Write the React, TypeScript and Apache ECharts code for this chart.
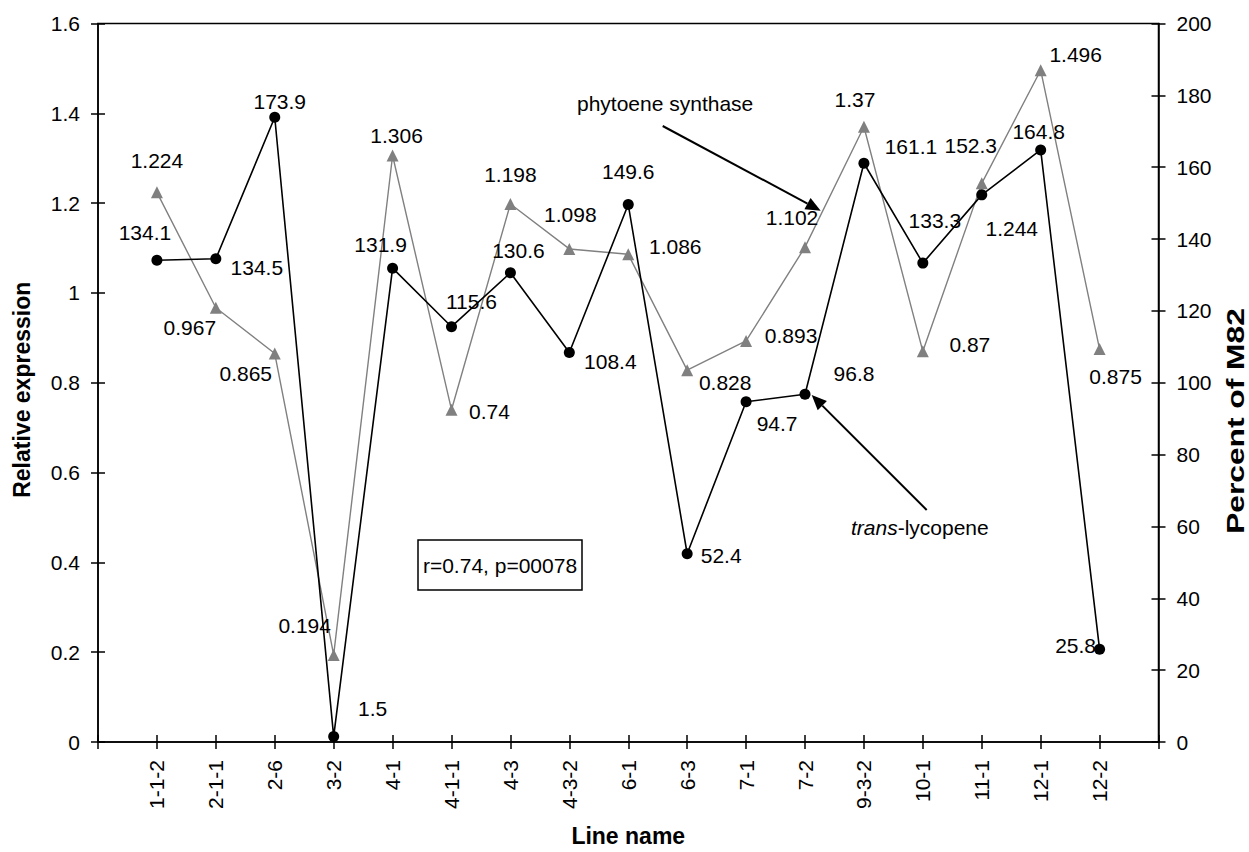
import React, { useEffect, useRef } from 'react';
import * as echarts from 'echarts';

// ---- data ----
const categories = ['1-1-2', '2-1-1', '2-6', '3-2', '4-1', '4-1-1', '4-3', '4-3-2', '6-1', '6-3', '7-1', '7-2', '9-3-2', '10-1', '11-1', '12-1', '12-2'];
const relativeExpression = [1.224, 0.967, 0.865, 0.194, 1.306, 0.74, 1.198, 1.098, 1.086, 0.828, 0.893, 1.102, 1.37, 0.87, 1.244, 1.496, 0.875];
const percentOfM82 = [134.1, 134.5, 173.9, 1.5, 131.9, 115.6, 130.6, 108.4, 149.6, 52.4, 94.7, 96.8, 161.1, 133.3, 152.3, 164.8, 25.8];
const leftAxisMin = 0;
const leftAxisMax = 1.6;
const leftAxisStep = 0.2;
const rightAxisMin = 0;
const rightAxisMax = 200;
const rightAxisStep = 20;

// ---- label layout (pixel offsets of each value label from its marker) ----
const grayLabelOffsets = [
  [0, -32], [-26, 20], [-29, 20], [-29, -29], [4, -20], [38, 2], [0, -30], [1, -34], [47, -8],
  [38, 12], [45, -5], [-13, -30], [-9, -27], [47, -7], [30, 45], [35, -16], [16, 27],
];
const blackLabelOffsets = [
  [-12, -28], [41, 9], [5, -16], [39, -28], [-12, -24], [20, -25], [8, -22], [41, 9], [0, -33],
  [34, 2], [31, 22], [49, -21], [47, -17], [12, -43], [-11, -49], [-2, -18], [-24, -4],
];

const FONT = "'Liberation Sans', Arial, Helvetica, sans-serif";

function arrowParts(x1: number, y1: number, x2: number, y2: number) {
  const ang = Math.atan2(y2 - y1, x2 - x1);
  const L = 15;
  const W = 6.5;
  const c = Math.cos(ang);
  const s = Math.sin(ang);
  const bx = x2 - L * c;
  const by = y2 - L * s;
  return [
    {
      type: 'line',
      shape: { x1, y1, x2: bx, y2: by },
      style: { stroke: '#000', lineWidth: 2 },
      z: 50,
    },
    {
      type: 'polygon',
      shape: { points: [[x2, y2], [bx - W * s, by + W * c], [bx + W * s, by - W * c]] },
      style: { fill: '#000' },
      z: 50,
    },
  ];
}

export default function App() {
  const ref = useRef<HTMLDivElement>(null);

  useEffect(() => {
    const chart = echarts.init(ref.current!, null, { renderer: 'svg' });
    const axisCats = ['', ...categories, ' '];
    const axisLineStyle = { color: '#000', width: 1.5 };
    const labelBase = {
      show: true,
      position: 'inside',
      fontSize: 21,
      color: '#000',
      fontFamily: FONT,
      textBorderWidth: 0,
    };

    const grayData: any[] = ['-', ...relativeExpression.map((v, i) => ({ value: v, label: { offset: grayLabelOffsets[i] } })), '-'];
    const blackData: any[] = ['-', ...percentOfM82.map((v, i) => ({ value: v, label: { offset: blackLabelOffsets[i] } })), '-'];

    const yCommon = {
      type: 'value',
      splitLine: { show: false },
    };

    chart.setOption({
      animation: false,
      backgroundColor: '#fff',
      textStyle: { fontFamily: FONT, color: '#000' },
      grid: {
        left: 98, right: 90.5, top: 23.5, bottom: 102,
        show: true, borderColor: '#000', borderWidth: 1.5, backgroundColor: 'transparent',
      },
      xAxis: [
        {
          type: 'category', data: axisCats, boundaryGap: false, position: 'bottom',
          axisLine: { lineStyle: axisLineStyle },
          axisTick: { show: true, interval: 0, length: 7, lineStyle: axisLineStyle },
          axisLabel: { interval: 0, rotate: 90, fontSize: 21, margin: 18, color: '#000', fontFamily: FONT },
          splitLine: { show: false },
          name: 'Line name', nameLocation: 'middle', nameGap: 82,
          nameTextStyle: { fontSize: 23, fontWeight: 'bold', color: '#000', fontFamily: FONT },
        },
        {
          type: 'category', data: axisCats, boundaryGap: false, position: 'bottom',
          axisLine: { show: false },
          axisTick: { show: true, inside: true, interval: 0, length: 7, lineStyle: axisLineStyle },
          axisLabel: { show: false },
          splitLine: { show: false },
        },
      ],
      yAxis: [
        {
          ...yCommon, position: 'left', min: leftAxisMin, max: leftAxisMax, interval: leftAxisStep,
          axisLine: { show: true, lineStyle: axisLineStyle },
          axisTick: { show: true, length: 7, lineStyle: axisLineStyle },
          axisLabel: { fontSize: 21, margin: 18, color: '#000', fontFamily: FONT },
          name: 'Relative expression', nameLocation: 'middle', nameGap: 65, nameRotate: 90,
          nameTextStyle: { fontSize: 23, fontWeight: 'bold', color: '#000', fontFamily: FONT, padding: [0, 0, 0, -14] },
        },
        {
          ...yCommon, position: 'right', min: rightAxisMin, max: rightAxisMax, interval: rightAxisStep,
          axisLine: { show: true, lineStyle: axisLineStyle },
          axisTick: { show: true, length: 7, lineStyle: axisLineStyle },
          axisLabel: { fontSize: 21, margin: 18, color: '#000', fontFamily: FONT },
        },
        {
          ...yCommon, position: 'left', min: leftAxisMin, max: leftAxisMax, interval: leftAxisStep,
          axisLine: { show: false },
          axisTick: { show: true, inside: true, length: 7, lineStyle: axisLineStyle },
          axisLabel: { show: false },
        },
        {
          ...yCommon, position: 'right', min: rightAxisMin, max: rightAxisMax, interval: rightAxisStep,
          axisLine: { show: false },
          axisTick: { show: true, inside: true, length: 7, lineStyle: axisLineStyle },
          axisLabel: { show: false },
        },
      ],
      series: [
        {
          type: 'line', name: 'Relative expression', xAxisIndex: 0, yAxisIndex: 0,
          data: grayData, symbol: 'triangle', symbolSize: 12, showAllSymbol: true,
          lineStyle: { color: '#808080', width: 1.4 }, itemStyle: { color: '#808080' },
          label: labelBase, z: 2,
        },
        {
          type: 'line', name: 'Percent of M82', xAxisIndex: 0, yAxisIndex: 1,
          data: blackData, symbol: 'circle', symbolSize: 11, showAllSymbol: true,
          lineStyle: { color: '#000', width: 1.6 }, itemStyle: { color: '#000' },
          label: labelBase, z: 3,
        },
      ],
      graphic: [
        {
          type: 'text', x: 1236.5, y: 421, rotation: Math.PI / 2, scaleX: 1.38, z: 50,
          style: { text: 'Percent of M82', fontSize: 23, fontWeight: 'bold', fontFamily: FONT, fill: '#000', align: 'center', verticalAlign: 'middle' },
        },
        {
          type: 'text', x: 577, y: 103, z: 50,
          style: { text: 'phytoene synthase', fontSize: 21, fontFamily: FONT, fill: '#000', align: 'left', verticalAlign: 'middle' },
        },
        ...arrowParts(662.7, 126, 820.7, 210.7),
        {
          type: 'text', x: 851, y: 527, z: 50,
          style: {
            text: '{i|trans}-lycopene', fontSize: 21, fontFamily: FONT, fill: '#000', align: 'left', verticalAlign: 'middle',
            rich: { i: { fontStyle: 'italic', fontSize: 21, fontFamily: FONT, fill: '#000' } },
          },
        },
        ...arrowParts(926.7, 510, 811.7, 395),
        {
          type: 'rect', z: 50,
          shape: { x: 418, y: 540, width: 164, height: 50 },
          style: { fill: '#fff', stroke: '#000', lineWidth: 1.5 },
        },
        {
          type: 'text', x: 500, y: 565, z: 51,
          style: { text: 'r=0.74, p=00078', fontSize: 21, fontFamily: FONT, fill: '#000', align: 'center', verticalAlign: 'middle' },
        },
      ],
    });

    return () => chart.dispose();
  }, []);

  return (
    <div
      ref={ref}
      style={{ position: 'fixed', left: 0, top: 0, width: 1249, height: 852, background: '#fff' }}
    />
  );
}
